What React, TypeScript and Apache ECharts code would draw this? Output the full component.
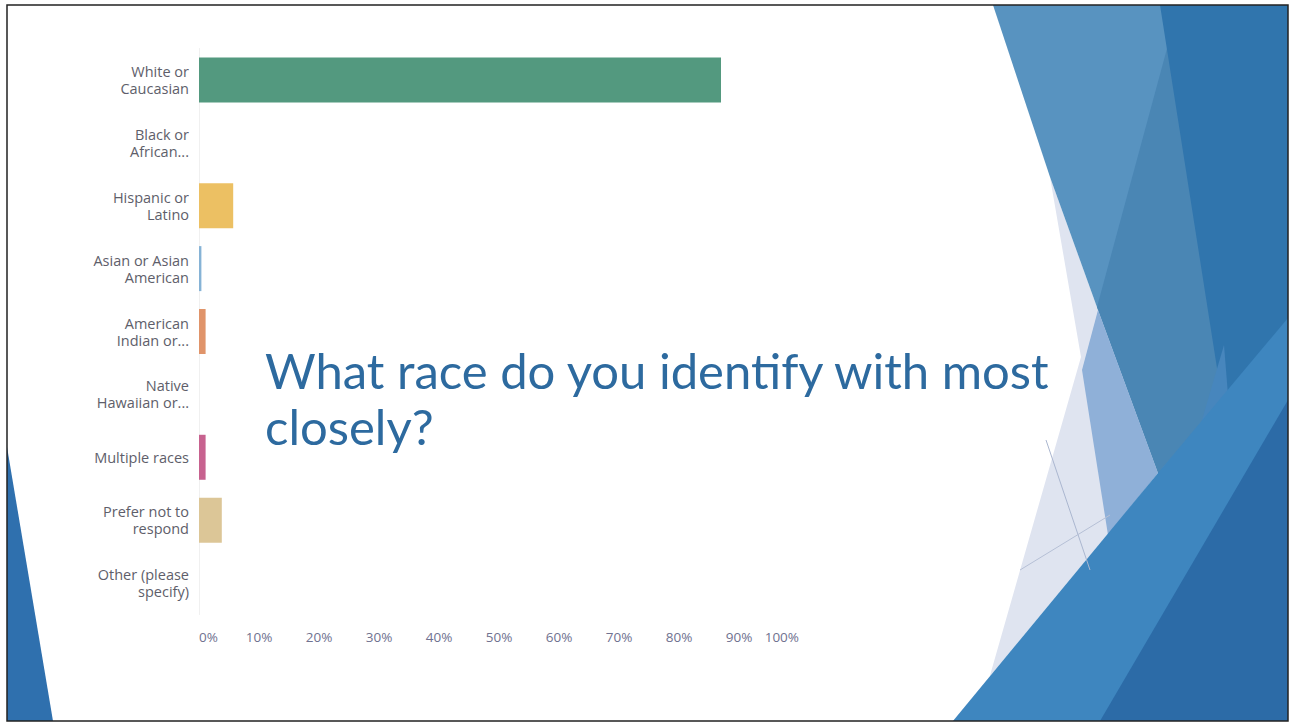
import React, { useEffect, useRef } from "react";
import * as echarts from "echarts";

const categories = [
  "White or\nCaucasian",
  "Black or\nAfrican...",
  "Hispanic or\nLatino",
  "Asian or Asian\nAmerican",
  "American\nIndian or...",
  "Native\nHawaiian or...",
  "Multiple races",
  "Prefer not to\nrespond",
  "Other (please\nspecify)",
];
const values = [87.0, 0, 5.7, 0.4, 1.1, 0, 1.1, 3.8, 0];
const barColors = [
  "#53997f",
  "#3f73ac",
  "#ecc063",
  "#86b3d6",
  "#e0946a",
  "#8e7cc3",
  "#c7628f",
  "#dcc697",
  "#aaaaaa",
];
const titleLines = ["What race do you identify with most", "closely?"];

const poly = (points: number[][], fill: string, opacity = 1) => ({
  type: "polygon",
  silent: true,
  shape: { points },
  style: { fill, opacity },
  z: 0,
});

export default function App() {
  const ref = useRef<HTMLDivElement>(null);
  useEffect(() => {
    if (!ref.current) return;
    const chart = echarts.init(ref.current, undefined, { renderer: "svg" });
    chart.setOption({
      animation: false,
      backgroundColor: "#ffffff",
      grid: { left: 199, top: 48.5, width: 600, height: 566, containLabel: false },
      xAxis: {
        type: "value",
        min: 0,
        max: 100,
        interval: 10,
        axisLine: { show: false },
        axisTick: { show: false },
        splitLine: { show: false },
        axisLabel: {
          formatter: "{value}%",
          color: "#707290",
          fontSize: 13.5,
          fontFamily: "Open Sans",
          margin: 15,
          alignMinLabel: "left",
          alignMaxLabel: "right",
        },
      },
      yAxis: {
        type: "category",
        data: categories,
        inverse: true,
        axisLine: { show: true, lineStyle: { color: "#f0f0f0", width: 1 } },
        axisTick: { show: false },
        axisLabel: {
          color: "#5e5e6a",
          fontSize: 14.5,
          fontFamily: "Open Sans",
          lineHeight: 17,
          margin: 10,
          align: "right",
        },
      },
      series: [
        {
          type: "bar",
          barWidth: 45,
          data: values.map((v, i) => ({ value: v, itemStyle: { color: barColors[i] } })),
        },
      ],
      graphic: [
        // right decorative facets
        poly([[1050, 177], [1098, 310], [1158, 473], [953, 721], [977, 721], [1081, 357]], "#dfe4f0"),
        poly([[993, 5], [1288, 5], [1288, 721], [1158, 473], [1098, 310], [1050, 177]], "#5893c0"),
        poly([[1172, 30], [1097, 307], [1158, 473], [1222, 400]], "#4a86b4"),
        poly([[1098, 310], [1158, 473], [1108, 535], [1082, 370]], "#8fb0d8"),
        poly([[1160, 5], [1288, 5], [1288, 721], [1180, 533], [1222, 400]], "#3075ad"),
        poly([[1197, 437], [1224, 345], [1234, 470], [1180, 533]], "#4786bd"),
        poly([[1158, 473], [1197, 437], [1180, 533]], "#2f7aa8"),
        poly([[953, 721], [1158, 473], [1288, 318], [1288, 721]], "#3e86bf"),
        poly([[1100, 721], [1288, 400], [1288, 721]], "#2c6ba7"),
        // faint lines in pale area
        {
          type: "line",
          silent: true,
          shape: { x1: 1046, y1: 440, x2: 1090, y2: 570 },
          style: { stroke: "#aab6cf", lineWidth: 1 },
          z: 1,
        },
        {
          type: "line",
          silent: true,
          shape: { x1: 1020, y1: 570, x2: 1110, y2: 515 },
          style: { stroke: "#b6c0d6", lineWidth: 1 },
          z: 1,
        },
        // left triangle
        poly([[7, 447], [53, 721], [7, 721]], "#2f70ae"),
        // frame
        {
          type: "rect",
          silent: true,
          shape: { x: 7, y: 5, width: 1281, height: 716 },
          style: { fill: "none", stroke: "#222222", lineWidth: 1.5 },
          z: 5,
        },
        // title
        {
          type: "text",
          silent: true,
          x: 265,
          y: 370,
          style: {
            text: titleLines[0],
            font: "49px Lato",
            fill: "#2d6a9f",
            verticalAlign: "middle",
          },
          z: 3,
        },
        {
          type: "text",
          silent: true,
          x: 265,
          y: 426,
          style: {
            text: titleLines[1],
            font: "49px Lato",
            fill: "#2d6a9f",
            verticalAlign: "middle",
          },
          z: 3,
        },
      ],
    });
    return () => chart.dispose();
  }, []);
  return (
    <div
      ref={ref}
      style={{ position: "absolute", left: 0, top: 0, width: 1291, height: 723 }}
    />
  );
}
